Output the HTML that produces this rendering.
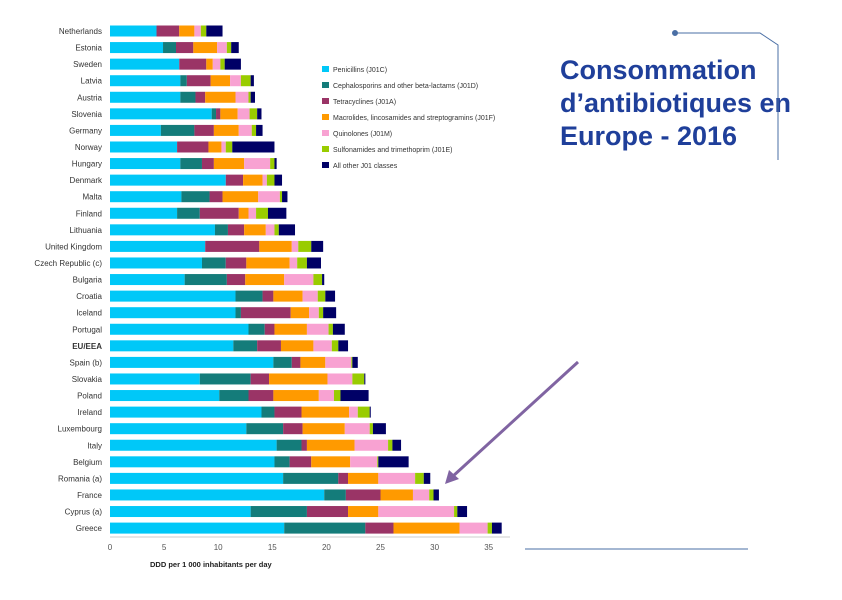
<!DOCTYPE html>
<html><head><meta charset="utf-8"><style>
body{margin:0;background:#fff;width:842px;height:595px;overflow:hidden;font-family:"Liberation Sans",sans-serif}
</style></head><body>
<svg width="842" height="595">
<g id="bars"></g><g id="labels"></g><g id="axis"></g><g id="legend"></g>
<text font-family="Liberation Sans" font-size="27" fill="#1f3f9a" font-weight="bold">
<tspan x="560" y="79">Consommation</tspan><tspan x="560" y="112">d’antibiotiques en</tspan><tspan x="560" y="145">Europe - 2016</tspan></text>
<g stroke="#4a6fa5" stroke-width="1" fill="none">
<circle cx="675" cy="33" r="2.5" fill="#4a6fa5"/>
<polyline points="675,33 760,33 778,45 778,160"/>
<line x1="525" y1="549" x2="748" y2="549"/>
</g>
<g>
<line x1="578" y1="362" x2="452" y2="477" stroke="#8064a2" stroke-width="3"/>
<polygon points="445,484 449,470 459,479" fill="#8064a2"/>
</g>
</svg>
<script>
const countries=["Netherlands","Estonia","Sweden","Latvia","Austria","Slovenia","Germany","Norway","Hungary","Denmark","Malta","Finland","Lithuania","United Kingdom","Czech Republic (c)","Bulgaria","Croatia","Iceland","Portugal","EU/EEA","Spain (b)","Slovakia","Poland","Ireland","Luxembourg","Italy","Belgium","Romania (a)","France","Cyprus (a)","Greece"];
const penicillins=[4.3,4.9,6.4,6.5,6.5,9.4,4.7,6.2,6.5,10.7,6.6,6.2,9.7,8.8,8.5,6.9,11.6,11.6,12.8,11.4,15.1,8.3,10.1,14.0,12.6,15.4,15.2,16.0,19.8,13.0,16.1];
const cephalosporins=[0,1.2,0,0.6,1.4,0.4,3.1,0,2.0,0,2.6,2.1,1.2,0,2.2,3.9,2.5,0.5,1.5,2.2,1.7,4.7,2.7,1.2,3.4,2.3,1.4,5.1,2.0,5.2,7.5];
const tetracyclines=[2.1,1.6,2.5,2.2,0.9,0.4,1.8,2.9,1.1,1.6,1.2,3.6,1.5,5.0,1.9,1.7,1.0,4.6,0.9,2.2,0.8,1.7,2.3,2.5,1.8,0.5,2.0,0.9,3.2,3.8,2.6];
const macrolides=[1.4,2.2,0.6,1.8,2.8,1.6,2.3,1.2,2.8,1.8,3.3,0.9,2.0,3.0,4.0,3.6,2.7,1.7,3.0,3.0,2.3,5.4,4.2,4.4,3.9,4.4,3.6,2.8,3.0,2.8,6.1];
const quinolones=[0.6,0.9,0.7,1.0,1.2,1.1,1.2,0.4,2.4,0.4,2.0,0.7,0.8,0.6,0.7,2.7,1.4,0.9,2.0,1.7,2.4,2.3,1.4,0.8,2.3,3.1,2.5,3.4,1.5,7.0,2.6];
const sulfonamides=[0.5,0.4,0.4,0.9,0.2,0.7,0.4,0.6,0.4,0.7,0.2,1.1,0.4,1.2,0.9,0.8,0.7,0.4,0.4,0.6,0.1,1.1,0.6,1.1,0.3,0.4,0.1,0.8,0.4,0.3,0.4];
const otherJ01=[1.5,0.7,1.5,0.3,0.4,0.4,0.6,3.9,0.2,0.7,0.5,1.7,1.5,1.1,1.3,0.2,0.9,1.2,1.1,0.9,0.5,0.1,2.6,0.1,1.2,0.8,2.8,0.6,0.5,0.9,0.9];
const seriesNames=["Penicillins (J01C)","Cephalosporins and other beta-lactams (J01D)","Tetracyclines (J01A)","Macrolides, lincosamides and streptogramins (J01F)","Quinolones (J01M)","Sulfonamides and trimethoprim (J01E)","All other J01 classes"];
const ticks=[0,5,10,15,20,25,30,35];
const series=[penicillins,cephalosporins,tetracyclines,macrolides,quinolones,sulfonamides,otherJ01];
const colors=["#00c8f8","#147c7a","#9a3466","#ff9a00","#f8a2d2","#99cc00","#000066"];
const NS="http://www.w3.org/2000/svg";
const x0=110,xs=10.82;
function X(v){return x0+v*xs;}
function Y(i){return 31+i*16.57;}
function mk(tag,attrs,parent){const e=document.createElementNS(NS,tag);for(const k in attrs)e.setAttribute(k,attrs[k]);parent.appendChild(e);return e;}
const gb=document.getElementById('bars'),gl=document.getElementById('labels'),ga=document.getElementById('axis'),gL=document.getElementById('legend');
countries.forEach((c,i)=>{
 let acc=0;
 series.forEach((s,k)=>{
  const v=s[i]; if(v<=0){return;}
  const r=mk('rect',{x:X(acc),y:Y(i)-5.5,width:v*xs,height:11,fill:colors[k]},gb);
  
  
  acc+=v;
 });
 const t=mk('text',{x:102,y:Y(i)+3,'text-anchor':'end','font-size':8,fill:'#333','font-weight':c==='EU/EEA'?'bold':'normal'},gl);
 t.textContent=c;
 
 
});
const al=mk('line',{x1:x0,y1:537,x2:510,y2:537,stroke:'#ccc'},ga);


ticks.forEach(v=>{
 const t=mk('text',{x:X(v),y:550,'text-anchor':'middle','font-size':8,fill:'#555'},ga);
 t.textContent=v;
 
 
});
const at=mk('text',{x:150,y:567,'font-size':7.5,'font-weight':'bold',fill:'#222'},ga);
at.textContent='DDD per 1 000 inhabitants per day';


seriesNames.forEach((n,k)=>{
 const y=69+k*16;
 const r=mk('rect',{x:322,y:y-3,width:7,height:6,fill:colors[k]},gL);
 
 
 const t=mk('text',{x:333,y:y+3,'font-size':7,fill:'#333'},gL);
 t.textContent=n;
 
 
});
</script>
</body></html>
